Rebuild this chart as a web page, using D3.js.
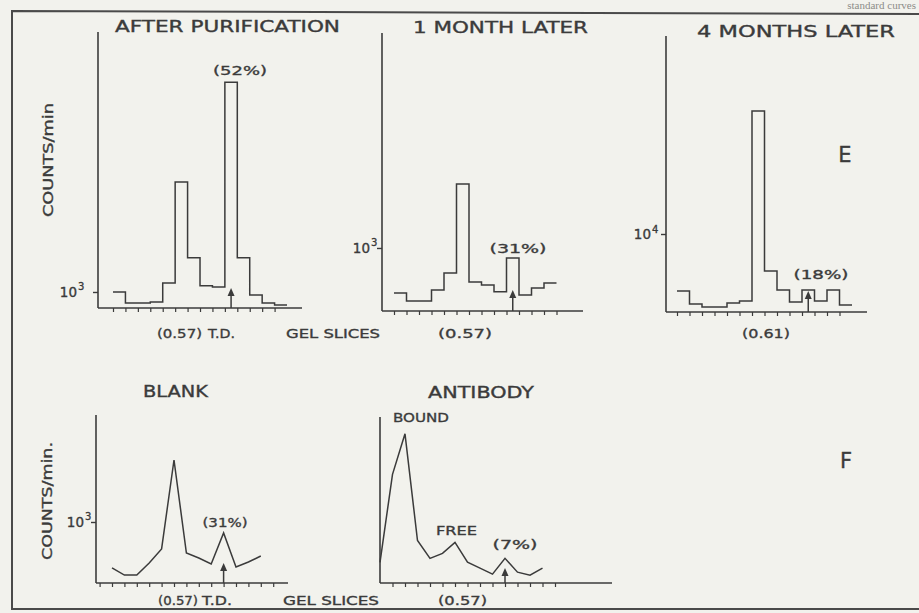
<!DOCTYPE html>
<html>
<head>
<meta charset="utf-8">
<script src="https://cdn.jsdelivr.net/npm/d3@7"></script>
<style>
  html, body { margin: 0; padding: 0; background: #f2f2ed; }
  svg { display: block; }
  text { font-family: "DejaVu Sans", sans-serif; fill: #3b3b3b; stroke: #3b3b3b; stroke-width: 0.35px; }
</style>
</head>
<body>
<div class="canvas"></div>
<script>
// counts/min per gel slice (log axis)
const afterPurification = [1000, 845, 845, 858, 1150, 5400, 1690, 1100, 1080, 25000, 1690, 955, 845, 820];
const oneMonthLater = [500, 443, 443, 525, 680, 2670, 593, 567, 510, 858, 486, 541, 584];
const fourMonthsLater = [4170, 3415, 3260, 3260, 3470, 3575, 66000, 5670, 4230, 3520, 4230, 3575, 4230, 3360];
const blank = [494, 443, 443, 533, 661, 2590, 621, 575, 525, 845, 501, 541, 593];
const antibody = [540, 2120, 3980, 759, 575, 621, 736, 541, 494, 450, 575, 464, 443, 494];

const titles = ["AFTER PURIFICATION", "1 MONTH LATER", "4 MONTHS LATER", "BLANK", "ANTIBODY"];
const yTickValues = [1000, 1000, 10000, 1000, null];
const percentLabels = ["(52%)", "(31%)", "(18%)", "(31%)", "(7%)"];
const peakLabels = ["(0.57)", "(0.57)", "(0.61)", "(0.57)", "(0.57)"];
const arrowSlices = [9.5, 9.5, 10.5, 9, 10];

// layout of each panel (pixels)
const panels = [
  { data: afterPurification, kind: "step", x0: 113, sw: 12.43, axisX: 98, axisEnd: 302, top: 32, bottom: 308,
    domain: [782, 54100], tickRange: [0, 13], arrowLen: 20,
    title: [227.5, 32, 225], pct: [240, 75, 54], peak: [179.5, 338, 45], tickLabelEnd: 84 },
  { data: oneMonthLater, kind: "step", x0: 394, sw: 12.5, axisX: 382, axisEnd: 583, top: 33, bottom: 311,
    domain: [380, 27120], tickRange: [0, 13], arrowLen: 21,
    title: [500.5, 33, 175], pct: [518, 253, 57], peak: [465, 338, 54], tickLabelEnd: 377 },
  { data: fourMonthsLater, kind: "step", x0: 677, sw: 12.5, axisX: 666, axisEnd: 867, top: 36, bottom: 312,
    domain: [3020, 208930], tickRange: [0, 13], arrowLen: 21,
    title: [796, 37, 198], pct: [821, 279, 55], peak: [766, 338, 48], tickLabelEnd: 658 },
  { data: blank, kind: "line", x0: 112, sw: 12.4, axisX: 96, axisEnd: 288, top: 415, bottom: 583,
    domain: [392, 5168], tickRange: [-1, 13], arrowLen: 20,
    title: [175.5, 397, 65], pct: [225, 527, 45], peak: [178, 605, 40], tickLabelEnd: 91 },
  { data: antibody, kind: "line", x0: 380, sw: 12.5, axisX: 380, axisEnd: 612, top: 417, bottom: 583,
    domain: [392, 5168], tickRange: [1, 14], arrowLen: 15,
    title: [481, 398, 106], pct: [515, 549, 45], peak: [462.5, 605, 49], tickLabelEnd: null }
];

const ink = "#3b3b3b";
const svg = d3.select(".canvas").append("svg").attr("width", 919).attr("height", 613);

function label(g, txt, x, y, size, len, anchor = "middle") {
  const t = g.append("text").attr("x", x).attr("y", y)
    .attr("font-size", size).attr("text-anchor", anchor).text(txt);
  if (len) t.attr("textLength", len).attr("lengthAdjust", "spacingAndGlyphs");
  return t;
}

// scanned page bits: the frame and the line of book text above it
svg.append("text").attr("x", 916).attr("y", 9).attr("text-anchor", "end")
  .style("font-family", "'Liberation Serif', serif").style("fill", "#8c8c88").style("stroke", "none")
  .attr("font-size", 11).text("standard curves");
svg.append("path").attr("d", "M919,14 L12,11 L12,609 L919,609")
  .attr("fill", "none").attr("stroke", "#4a4a4a").attr("stroke-width", 2);

panels.forEach((p, i) => {
  const g = svg.append("g");
  const n = p.data.length;
  const x = d3.scaleLinear().domain([0, n]).range([p.x0, p.x0 + n * p.sw]);
  const y = d3.scaleLog().domain(p.domain).range([p.bottom, p.top]);

  // axes
  g.append("line").attr("x1", p.axisX).attr("x2", p.axisX).attr("y1", p.top).attr("y2", p.bottom)
    .attr("stroke", ink).attr("stroke-width", 1.6);
  g.append("line").attr("x1", p.axisX).attr("x2", p.axisEnd).attr("y1", p.bottom).attr("y2", p.bottom)
    .attr("stroke", ink).attr("stroke-width", 1.6);

  const xAxis = d3.axisBottom(x)
    .tickValues(d3.range(p.tickRange[0], p.tickRange[1] + 1))
    .tickSize(4).tickSizeOuter(0).tickFormat("");
  const xa = g.append("g").attr("transform", `translate(0,${p.bottom})`).call(xAxis);
  xa.select(".domain").remove();
  xa.selectAll("line").attr("stroke", ink).attr("stroke-width", 1.2);

  const tv = yTickValues[i];
  if (tv) {
    const ya = g.append("g").attr("transform", `translate(${p.axisX},0)`)
      .call(d3.axisLeft(y).tickValues([tv]).tickSize(5).tickSizeOuter(0).tickFormat(""));
    ya.select(".domain").remove();
    ya.selectAll("line").attr("stroke", ink).attr("stroke-width", 1.4);
    label(g, "10", p.tickLabelEnd - 7, y(tv) + 5, 13.5, null, "end");
    g.append("text").attr("x", p.tickLabelEnd - 6).attr("y", y(tv) - 1.5)
      .attr("font-size", 10).text(String(Math.round(Math.log10(tv))));
  }

  // data
  let d;
  if (p.kind === "step") {
    d = p.data.map((v, k) => (k === 0 ? `M${x(0)},${y(v)}` : `V${y(v)}`) + `H${x(k + 1)}`).join("");
  } else {
    d = d3.line().x((v, k) => x(k)).y(v => y(v))(p.data);
  }
  g.append("path").attr("d", d).attr("fill", "none")
    .attr("stroke", ink).attr("stroke-width", 1.5).attr("stroke-linejoin", "miter");

  // arrow marking the T.D. slice
  const ax = x(arrowSlices[i]);
  const tip = p.bottom - p.arrowLen;
  g.append("line").attr("x1", ax).attr("x2", ax).attr("y1", p.bottom).attr("y2", tip + 3)
    .attr("stroke", ink).attr("stroke-width", 1.5);
  g.append("path").attr("d", `M${ax - 3.5},${tip + 8} L${ax},${tip} L${ax + 3.5},${tip + 8} Z`)
    .attr("fill", ink);

  // text
  label(g, titles[i], p.title[0], p.title[1], 15, p.title[2]);
  label(g, percentLabels[i], p.pct[0], p.pct[1], 12.5, p.pct[2]);
  label(g, peakLabels[i], p.peak[0], p.peak[1], 12.5, p.peak[2]);
});

// remaining annotations
label(svg, "T.D.", 221.5, 338, 12.5, 27);
label(svg, "GEL SLICES", 333, 338, 12.5, 94);
label(svg, "T.D.", 217, 605, 12.5, 30);
label(svg, "GEL SLICES", 331, 605, 12.5, 96);
label(svg, "BOUND", 421, 422, 12.5, 56);
label(svg, "FREE", 456.5, 535, 12.5, 41);
label(svg, "E", 845, 162, 21);
label(svg, "F", 846, 468, 21);

label(svg, "COUNTS/min", 0, 0, 13.5, 114)
  .attr("transform", "translate(53,160) rotate(-90)");
label(svg, "COUNTS/min.", 0, 0, 13.5, 118)
  .attr("transform", "translate(52,501) rotate(-90)");
</script>
</body>
</html>
